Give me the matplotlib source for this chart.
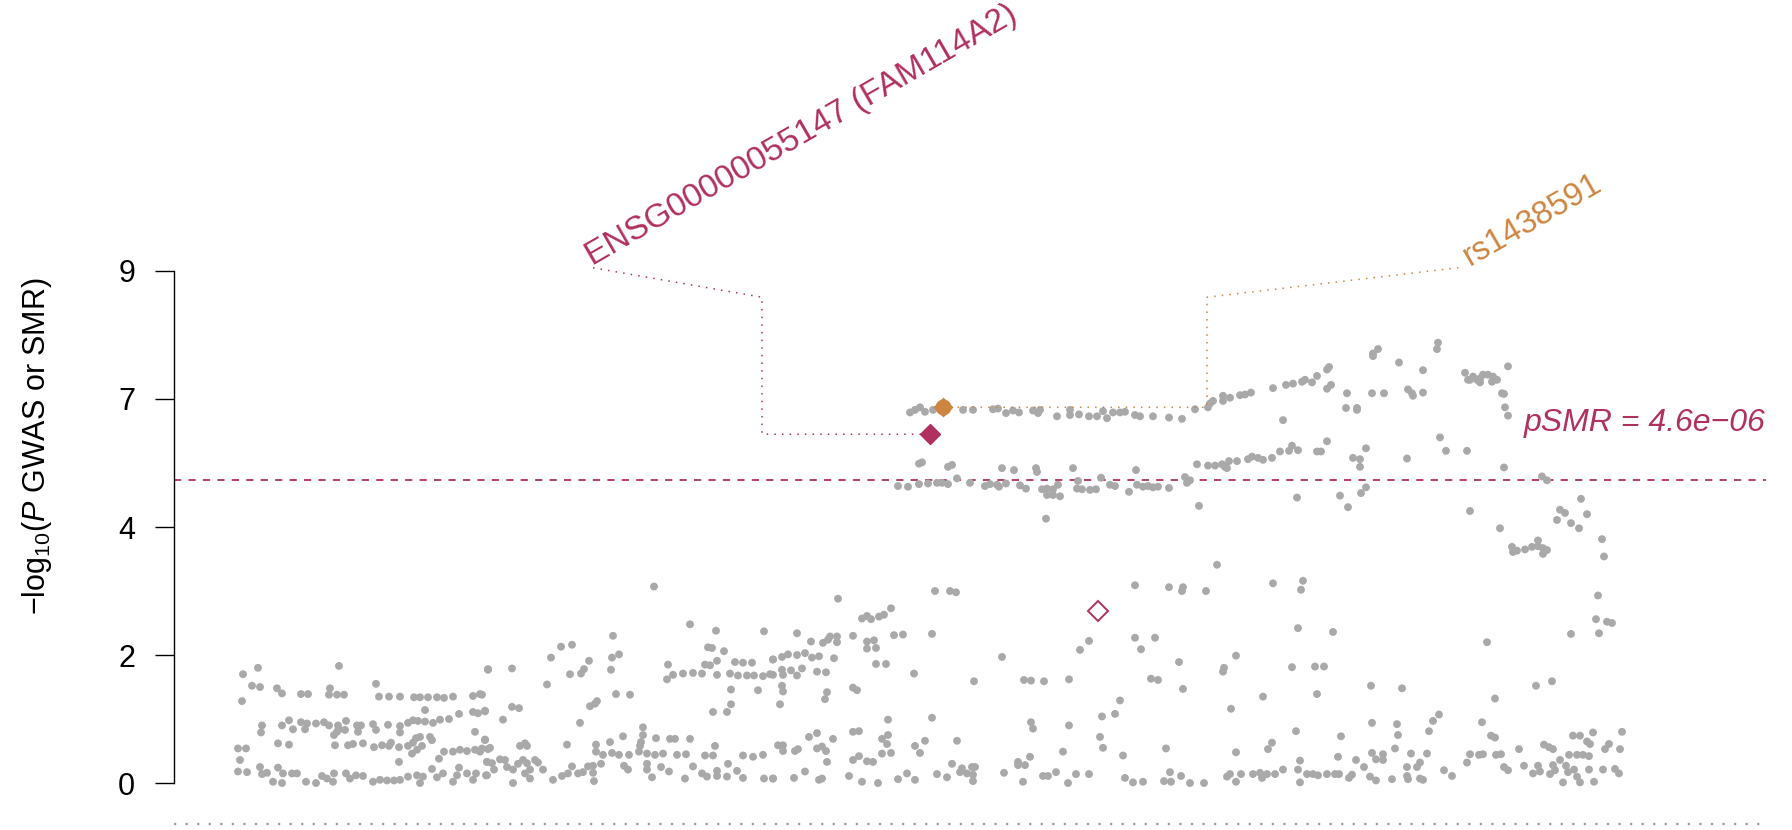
import numpy as np
import matplotlib
matplotlib.use("Agg")
import matplotlib.pyplot as plt

plt.rcParams['font.family'] = ['Liberation Sans', 'DejaVu Sans']
plt.rcParams['mathtext.fontset'] = 'custom'
plt.rcParams['mathtext.rm'] = 'Liberation Sans'
plt.rcParams['mathtext.it'] = 'Liberation Sans:italic'

# SNP positions (relative, kb) and -log10 P (scaled axis units)
# lower band (GWAS, weak signal)
low_pos = [243, 258, 242, 252, 260, 339, 277, 282, 301, 308, 330, 329, 337, 344, 376,
           379, 389, 400, 414, 420, 428, 437, 444, 453,
           488, 473, 480, 473, 478, 485, 425, 459,
           449, 440, 433, 425, 418, 413, 408,
           262, 261, 282, 289, 293, 301, 307, 305, 316, 324, 329,
           338, 346, 345, 339, 334, 337, 357, 361, 358, 373, 376, 388, 400, 400,
           420, 416, 413, 430, 432, 475, 485,
           278, 289, 335, 348, 353, 363,
           374, 382, 389, 391, 399, 408, 412, 417, 422,
           238, 246, 240, 399, 439, 444,
           453, 460, 467, 475, 480, 488, 487, 432, 459,
           238, 247,
           260, 262, 267, 273, 278, 283, 282, 292, 297, 306, 316, 322, 327, 333, 334, 346,
           350, 356, 363, 373, 380, 387, 394, 400, 408, 417, 420, 423, 437, 443, 453, 457,
           467, 473, 476, 487]
low_logp = [1.70, 1.80, 1.28, 1.52, 1.50, 1.83, 1.48, 1.40, 1.39, 1.39, 1.48, 1.38, 1.38, 1.38, 1.55,
            1.35, 1.35, 1.35, 1.34, 1.34, 1.34, 1.34, 1.33, 1.35,
            1.77, 1.36, 1.39, 1.11, 1.09, 1.12, 1.14, 1.08,
            1.00, 0.99, 0.94, 0.96, 0.97, 0.98, 0.94,
            0.90, 0.79, 0.90, 0.98, 0.84, 0.95, 0.93, 0.84, 0.93, 0.95, 0.90,
            0.90, 0.97, 0.83, 0.84, 0.75, 0.80, 0.90, 0.90, 0.80, 0.92, 0.83, 0.91, 0.89, 0.79,
            0.72, 0.70, 0.63, 0.72, 0.67, 0.80, 0.68,
            0.62, 0.60, 0.59, 0.59, 0.61, 0.62,
            0.56, 0.59, 0.58, 0.63, 0.56, 0.58, 0.46, 0.52, 0.58,
            0.54, 0.54, 0.36, 0.33, 0.38, 0.49,
            0.49, 0.52, 0.50, 0.52, 0.49, 0.53, 0.33, 0.22, 0.24,
            0.18, 0.17,
            0.25, 0.14, 0.16, 0.02, 0.24, 0.15, 0.00, 0.15, 0.15, 0.02, 0.00, 0.11, 0.07, 0.02, 0.15, 0.15,
            0.07, 0.12, 0.11, 0.02, 0.05, 0.04, 0.04, 0.05, 0.10, 0.12, 0.00, 0.10, 0.09, 0.15, 0.02, 0.12,
            0.15, 0.05, 0.15, 0.12]

mid_pos = [654, 690, 716, 764, 613, 561, 572, 708, 712, 724, 551, 589, 612, 619, 584, 581, 570, 611, 488, 512, 668,
           667, 673, 683, 693, 702, 710, 717, 717, 705,
           735, 743, 752, 773, 730, 738, 747, 754, 763, 770,
           731, 758, 731, 727, 713, 547, 482, 485, 512, 519, 503,
           590, 597, 595, 616, 630, 580, 643,
           623, 643, 656, 670, 675, 690, 485,
           520, 525, 527, 567, 596, 610, 641, 640, 715, 490, 482,
           596, 603, 612, 619, 629, 639, 647,
           655, 663, 677, 686, 705, 713, 743, 753, 763, 778,
           487, 492, 500, 505, 507, 513, 518, 523, 527, 530, 535, 543, 538, 494, 486, 513, 525, 530,
           553, 562, 568, 572, 578, 583, 588, 593, 593, 594, 601, 624, 628, 647, 647, 652, 661, 669,
           685, 693, 702, 707, 717, 717, 728, 727, 737, 743, 764, 773]
mid_logp = [3.07, 2.48, 2.38, 2.37, 2.30, 2.13, 2.16, 2.12, 2.11, 2.06, 1.96, 1.91, 1.96, 2.01, 1.78, 1.71, 1.70, 1.77, 1.78, 1.79, 1.85,
            1.62, 1.69, 1.71, 1.72, 1.71, 1.84, 1.91, 1.69, 1.85,
            1.89, 1.88, 1.88, 1.93, 1.71, 1.68, 1.68, 1.68, 1.67, 1.70,
            1.46, 1.45, 1.23, 1.11, 1.11, 1.54, 1.38, 1.13, 1.19, 1.17, 0.99,
            1.20, 1.28, 1.24, 1.39, 1.38, 0.94, 0.87,
            0.73, 0.75, 0.70, 0.69, 0.69, 0.69, 0.67,
            0.58, 0.62, 0.58, 0.60, 0.60, 0.64, 0.64, 0.58, 0.58, 0.55, 0.54,
            0.49, 0.44, 0.47, 0.44, 0.44, 0.49, 0.46,
            0.44, 0.46, 0.44, 0.45, 0.43, 0.43, 0.43, 0.41, 0.44, 0.59,
            0.33, 0.31, 0.37, 0.36, 0.25, 0.21, 0.30, 0.36, 0.31, 0.21, 0.36, 0.21, 0.32, 0.21, 0.12, 0.00, 0.15, 0.07,
            0.05, 0.11, 0.15, 0.26, 0.15, 0.17, 0.26, 0.27, 0.16, 0.03, 0.30, 0.27, 0.21, 0.30, 0.21, 0.09, 0.25, 0.18,
            0.07, 0.26, 0.15, 0.10, 0.19, 0.11, 0.30, 0.10, 0.19, 0.08, 0.07, 0.07]

cen_pos = [838, 935, 950, 956, 862, 867, 871, 879, 884, 891,
           797, 811, 823, 828, 830, 837, 837, 853, 867, 874, 867, 876, 894, 903, 932,
           773, 782, 788, 797, 805, 812, 819, 834,
           773, 782, 783, 791, 797, 802, 817, 826,
           876, 886, 914, 1002, 974, 1024, 1031, 1044, 1069,
           782, 783, 780, 827, 825, 853, 857,
           888, 932, 1031, 1033, 1069,
           817, 809, 853, 859, 833, 888, 882, 887, 925, 957, 915, 920,
           783, 783, 795, 798, 817, 822, 826, 827,
           853, 859, 867, 873, 882, 891, 1063, 1030, 1018, 1025, 1018,
           952, 962, 960, 967, 972, 975, 973, 973,
           773, 794, 805, 819, 822, 849, 862, 878, 898, 907, 915, 937, 947, 1004, 1023, 1043, 1048, 1056, 1068]
cen_logp = [2.88, 3.00, 3.00, 2.98, 2.57, 2.61, 2.56, 2.60, 2.63, 2.73,
            2.34, 2.21, 2.19, 2.24, 2.29, 2.29, 2.20, 2.30, 2.21, 2.23, 2.10, 2.11, 2.31, 2.32, 2.33,
            1.93, 1.97, 2.01, 2.00, 2.03, 1.96, 1.98, 1.95,
            1.69, 1.77, 1.69, 1.76, 1.68, 1.79, 1.74, 1.73,
            1.86, 1.86, 1.71, 1.97, 1.59, 1.61, 1.60, 1.59, 1.62,
            1.52, 1.43, 1.23, 1.42, 1.31, 1.49, 1.45,
            0.99, 1.02, 0.95, 0.85, 0.90,
            0.78, 0.72, 0.80, 0.81, 0.69, 0.75, 0.69, 0.61, 0.66, 0.66, 0.58, 0.47,
            0.59, 0.50, 0.50, 0.53, 0.54, 0.57, 0.50, 0.33,
            0.36, 0.42, 0.34, 0.33, 0.46, 0.47, 0.49, 0.41, 0.33, 0.28, 0.28,
            0.30, 0.23, 0.17, 0.15, 0.25, 0.25, 0.13, 0.03,
            0.07, 0.08, 0.18, 0.05, 0.07, 0.11, 0.02, 0.00, 0.06, 0.15, 0.05, 0.14, 0.09, 0.16, 0.02, 0.11, 0.11, 0.17, 0.00]

right_pos = [1217, 1135, 1169, 1183, 1182, 1206, 1273, 1303, 1301, 1298, 1333,
             1089, 1080, 1135, 1155, 1141, 1179, 1236, 1223, 1224, 1292, 1315, 1324,
             1151, 1158, 1183, 1263, 1317, 1120, 1231, 1102, 1115,
             1296, 1341, 1100, 1103, 1123, 1166, 1236, 1272, 1268, 1300, 1338, 1356,
             1076, 1089, 1125, 1133, 1143, 1164, 1170, 1171, 1181, 1190, 1204, 1227, 1230, 1236, 1241, 1253,
             1260, 1262, 1267, 1275, 1283, 1298, 1300, 1307, 1313, 1318, 1327, 1335, 1339, 1349, 1352,
             1598, 1596, 1607, 1612, 1571, 1599, 1487, 1371, 1402, 1536, 1552, 1495,
             1372, 1397, 1398, 1433, 1439, 1429, 1482, 1491, 1495,
             1573, 1580, 1593, 1622, 1587, 1590, 1544, 1549, 1553, 1395, 1609, 1605, 1620,
             1372, 1383, 1411, 1427, 1470, 1479, 1483, 1496, 1501, 1519, 1569, 1577, 1583, 1589,
             1376, 1383, 1364, 1407, 1417, 1420, 1467, 1444, 1452, 1504, 1508, 1524, 1538, 1560, 1566, 1553,
             1370, 1376, 1392, 1407, 1408, 1420, 1423, 1533, 1540, 1550, 1555, 1563, 1568, 1574, 1580, 1577,
             1589, 1594, 1603, 1615, 1619]
right_logp = [3.41, 3.09, 3.06, 3.06, 3.00, 3.00, 3.12, 3.16, 3.02, 2.42, 2.36,
              2.22, 2.08, 2.27, 2.27, 2.09, 1.89, 1.99, 1.74, 1.80, 1.81, 1.82, 1.82,
              1.63, 1.61, 1.47, 1.35, 1.39, 1.29, 1.16, 1.04, 1.08,
              0.81, 0.73, 0.72, 0.55, 0.43, 0.54, 0.48, 0.63, 0.53, 0.35, 0.41, 0.36,
              0.14, 0.14, 0.08, 0.01, 0.02, 0.03, 0.17, 0.02, 0.11, 0.00, 0.00, 0.10, 0.14, 0.02, 0.14, 0.14,
              0.16, 0.08, 0.14, 0.14, 0.21, 0.21, 0.01, 0.14, 0.14, 0.12, 0.14, 0.14, 0.14, 0.08, 0.13,
              2.93, 2.56, 2.52, 2.50, 2.33, 2.34, 2.20, 1.52, 1.48, 1.52, 1.59, 1.32,
              0.94, 0.92, 0.75, 0.97, 1.07, 0.81, 0.95, 0.74, 0.71,
              0.74, 0.74, 0.79, 0.80, 0.65, 0.61, 0.60, 0.56, 0.53, 0.54, 0.61, 0.53, 0.53,
              0.47, 0.45, 0.46, 0.46, 0.45, 0.44, 0.45, 0.44, 0.45, 0.53, 0.44, 0.44, 0.44, 0.42,
              0.37, 0.36, 0.25, 0.25, 0.25, 0.32, 0.32, 0.20, 0.11, 0.25, 0.20, 0.27, 0.27, 0.36, 0.27, 0.28,
              0.10, 0.04, 0.06, 0.11, 0.06, 0.07, 0.05, 0.15, 0.18, 0.14, 0.20, 0.01, 0.17, 0.21, 0.01, 0.10,
              0.21, 0.02, 0.21, 0.22, 0.15]

# upper band (signal around the lead SNP)
top_pos = [910, 915, 920, 925, 933, 963, 973, 993, 998, 1006, 1013, 1019, 1033, 1040, 1038,
           1057, 1070, 1070, 1079, 1089, 1097, 1107, 1103, 1113, 1120, 1125, 1135,
           1140, 1153, 1169, 1182, 1195, 1208, 1210, 1213, 1223, 1223, 1230, 1240, 1245, 1251,
           1273, 1286, 1293, 1302, 1305, 1312, 1317, 1327, 1329, 1331, 1327, 1347, 1346, 1357,
           1357, 1372, 1384, 1373, 1373, 1378, 1283,
           1438, 1437, 1399, 1423, 1508, 1465, 1468, 1473, 1480, 1483, 1488, 1493, 1497, 1492,
           1480, 1477, 1470, 1408, 1412, 1413, 1423, 1502, 1504, 1505, 1508]
top_logp = [5.79, 5.83, 5.87, 5.80, 5.83, 5.83, 5.83, 5.84, 5.85, 5.78, 5.82, 5.79, 5.82, 5.83, 5.78,
            5.73, 5.83, 5.75, 5.76, 5.73, 5.73, 5.70, 5.81, 5.79, 5.79, 5.80, 5.75,
            5.73, 5.73, 5.71, 5.69, 5.84, 5.87, 5.93, 5.97, 5.97, 6.05, 6.02, 6.06, 6.07, 6.10,
            6.17, 6.22, 6.24, 6.27, 6.30, 6.26, 6.36, 6.46, 6.50, 6.22, 6.16, 6.09, 5.86, 5.86,
            5.83, 6.09, 6.09, 6.71, 6.67, 6.78, 5.67,
            6.88, 6.78, 6.57, 6.45, 6.51, 6.41, 6.30, 6.35, 6.32, 6.38, 6.38, 6.35, 6.30, 6.27,
            6.26, 6.30, 6.30, 6.15, 6.09, 6.05, 6.10, 6.09, 6.08, 5.87, 5.74]

band_pos = [919, 922, 948, 952, 1002, 1014, 1036, 1037, 1073, 1136, 957, 1078, 1101,
            898, 908, 919, 928, 937, 942, 948, 970, 985, 990, 997, 999, 1006, 1020, 1026,
            1042, 1047, 1053, 1058, 1077, 1082, 1090, 1096, 1110, 1115, 1137,
            1047, 1053, 1060, 1129, 1046,
            1143, 1148, 1153, 1158, 1169, 1185, 1187, 1190, 1197, 1199, 1208, 1215, 1222, 1225,
            1227, 1229, 1237, 1248, 1252, 1258, 1263, 1272, 1280, 1289, 1292, 1298, 1317, 1321,
            1327, 1353, 1360, 1360, 1366, 1297, 1340, 1348, 1361, 1366,
            1440, 1446, 1467, 1407, 1504, 1542, 1547, 1470, 1500,
            1581, 1560, 1565, 1557, 1571, 1579, 1587,
            1512, 1517, 1525, 1532, 1538, 1538, 1543, 1547, 1543, 1513, 1602, 1604]
band_logp = [4.99, 5.01, 4.94, 4.97, 4.92, 4.89, 4.92, 4.86, 4.92, 4.89, 4.76, 4.72, 4.77,
             4.64, 4.63, 4.67, 4.68, 4.69, 4.69, 4.67, 4.69, 4.64, 4.67, 4.66, 4.63, 4.68, 4.65, 4.60,
             4.59, 4.60, 4.59, 4.66, 4.60, 4.59, 4.58, 4.59, 4.66, 4.64, 4.66,
             4.50, 4.50, 4.48, 4.55, 4.13,
             4.63, 4.64, 4.62, 4.63, 4.61, 4.78, 4.69, 4.73, 4.98, 4.33, 4.96, 4.96, 4.98, 4.94,
             4.92, 5.03, 5.03, 5.06, 5.10, 5.08, 5.05, 5.08, 5.18, 5.19, 5.27, 5.20, 5.18, 5.18,
             5.34, 5.08, 5.06, 4.94, 5.23, 4.46, 4.49, 4.31, 4.53, 4.62,
             5.40, 5.19, 5.19, 5.07, 4.93, 4.79, 4.73, 4.25, 3.98,
             4.44, 4.27, 4.22, 4.11, 4.06, 3.98, 4.20,
             3.69, 3.63, 3.65, 3.69, 3.79, 3.70, 3.67, 3.64, 3.58, 3.61, 3.81, 3.54]

# eQTL probes / top SNP
probe_pos = [930]
probe_logp = [5.45]
probe2_pos = [1098]
probe2_logp = [2.68]
top_snp_pos = 943
top_snp_logp = 5.87

smr_threshold = 4.73
gene_label = "ENSG00000055147 (FAM114A2)"
snp_label = "rs1438591"
psmr_text = "pSMR = 4.6e\u221206"

yticks = [0, 2, 4, 6, 8]
ytick_labels = ["0", "2", "4", "7", "9"]

maroon = "#B03060"
peru = "#CD853F"
grey = "#A9A9A9"

fig = plt.figure(figsize=(17.92, 8.30), dpi=100)
ax = fig.add_axes([174 / 1792, 0, 1592 / 1792, 1])
ax.set_xlim(174, 1766)
ax.set_ylim(-0.734, 12.234)

for xs, ys in [(low_pos, low_logp), (mid_pos, mid_logp), (cen_pos, cen_logp),
               (right_pos, right_logp), (top_pos, top_logp), (band_pos, band_logp)]:
    ax.scatter(xs, ys, s=32, color=grey, edgecolors='none', zorder=2, clip_on=False)

# threshold line + bottom dotted line
ax.axhline(smr_threshold, color=maroon, lw=1.3, ls=(0, (4, 4)), zorder=1)
ax.axhline(-0.64, color='#9A9A9A', lw=1.6, ls=(0, (1, 4.2)), zorder=1)

# probe markers
ax.plot(probe_pos, probe_logp, 'D', ms=10, color=maroon, mec=maroon, zorder=4)
ax.plot(probe2_pos, probe2_logp, 'D', ms=10, mfc='none', mec=maroon, mew=1.4, zorder=4)
ax.plot([top_snp_pos], [top_snp_logp], 'o', ms=11.5, color=peru, mec='none', zorder=4)
ax.plot([top_snp_pos], [top_snp_logp], 'D', ms=10, color=peru, mec='none', zorder=4)

# connector lines to labels
ax.plot([593, 762, 762, 922], [8.05, 7.59, 5.45, 5.45], color=maroon, lw=1.1,
        ls=(0, (1, 4)), clip_on=False, zorder=3)
ax.plot([950, 1207, 1207, 1463], [5.87, 5.87, 7.59, 8.06], color=peru, lw=1.1,
        ls=(0, (1, 4)), clip_on=False, zorder=3)

ax.text(592, 8.08, gene_label, color=maroon, fontsize=24, rotation=30,
        rotation_mode='anchor', ha='left', va='baseline')
ax.text(1470, 8.08, snp_label, color=peru, fontsize=23.5, rotation=30,
        rotation_mode='anchor', ha='left', va='baseline')
ax.text(1766, 5.62, psmr_text, color=maroon, fontsize=23, style='italic',
        ha='right', va='center')

# axes styling
for side in ['top', 'right', 'bottom']:
    ax.spines[side].set_visible(False)
ax.spines['left'].set_bounds(0, 8)
ax.spines['left'].set_linewidth(1.0)
ax.set_xticks([])
ax.set_yticks(yticks)
ax.set_yticklabels(ytick_labels, fontsize=22)
ax.tick_params(axis='y', length=14, width=1.0, pad=14)
ax.patch.set_visible(False)

fig.text(37 / 1792, 1 - 446 / 830, r"$-$log$_{10}$($\it{P}$ GWAS or SMR)",
         rotation=90, ha='center', va='center', fontsize=22)

fig.savefig("out.png", dpi=100)
